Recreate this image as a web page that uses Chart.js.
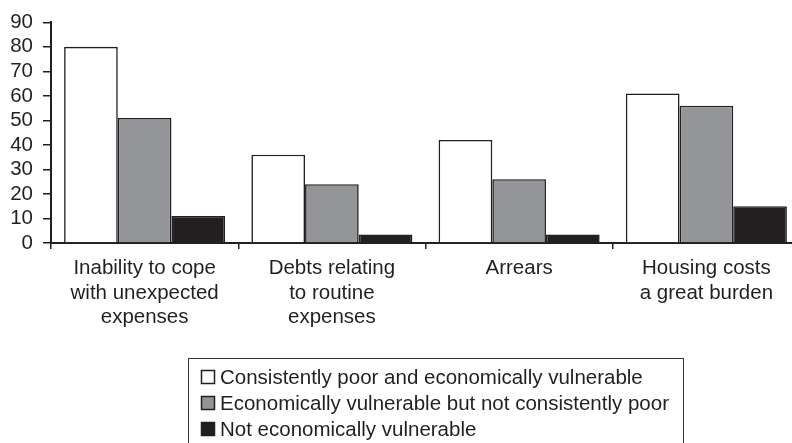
<!DOCTYPE html>
<html>
<head>
<meta charset="utf-8">
<script src="https://cdn.jsdelivr.net/npm/chart.js@4.4.1/dist/chart.umd.min.js"></script>
<style>
  html, body { margin: 0; padding: 0; background: #fff; overflow: hidden; }
  #wrap { width: 800px; height: 443px; }
</style>
</head>
<body>
<div id="wrap"><canvas id="myChart" width="800" height="443"></canvas></div>
<script>
// categories and series
const categories = [
  ['Inability to cope', 'with unexpected', 'expenses'],
  ['Debts relating', 'to routine', 'expenses'],
  ['Arrears'],
  ['Housing costs', 'a great burden']
];
const seriesNames = [
  'Consistently poor and economically vulnerable',
  'Economically vulnerable but not consistently poor',
  'Not economically vulnerable'
];
const poorVulnerable = [80, 36, 42, 61];
const vulnerableOnly = [51, 24, 26, 56];
const notVulnerable = [11, 3.5, 3.5, 15];
const seriesColors = ['#ffffff', '#939598', '#231f20'];
const yTicks = [0, 10, 20, 30, 40, 50, 60, 70, 80, 90];

const ink = '#231f20';
const font = { family: 'Liberation Sans, Arial, Helvetica, sans-serif', size: 20.5 };

// boxed legend under the chart, like the original
const boxLegend = {
  id: 'boxLegend',
  afterDraw(chart) {
    const ctx = chart.ctx;
    const left = 188, top = 358, right = 683;
    ctx.save();
    ctx.strokeStyle = '#333';
    ctx.lineWidth = 1;
    ctx.strokeRect(left + 0.5, top + 0.5, right - left, 120);
    ctx.font = font.size + 'px ' + font.family;
    ctx.textBaseline = 'middle';
    chart.data.datasets.forEach((ds, i) => {
      const y = top + 19 + i * 26;
      ctx.fillStyle = ds.backgroundColor;
      ctx.fillRect(left + 13.5, y - 6.5, 13, 13);
      ctx.strokeStyle = ink;
      ctx.lineWidth = 1.5;
      ctx.strokeRect(left + 13.5, y - 6.5, 13, 13);
      ctx.fillStyle = ink;
      ctx.fillText(ds.label, left + 32, y + 1);
    });
    ctx.restore();
  }
};

const data = {
  labels: categories,
  datasets: [poorVulnerable, vulnerableOnly, notVulnerable].map((vals, i) => ({
    label: seriesNames[i],
    data: vals,
    backgroundColor: seriesColors[i],
    borderColor: ink,
    borderWidth: 1.6,
    borderSkipped: 'bottom',
    barPercentage: 1,
    categoryPercentage: 0.86
  }))
};

const config = {
  type: 'bar',
  data: data,
  options: {
    responsive: false,
    animation: false,
    layout: { padding: { top: 20, left: 0, right: 0, bottom: 100 } },
    plugins: {
      legend: { display: false },
      tooltip: { enabled: false }
    },
    scales: {
      x: {
        grid: { display: true, drawOnChartArea: false, offset: true, tickLength: 6, color: ink, lineWidth: 1.5 },
        border: { display: true, color: ink, width: 2 },
        ticks: { color: ink, font: { ...font, lineHeight: 1.2 }, padding: 7, maxRotation: 0, autoSkip: false },
        afterFit(scale) { scale.height = 100; }
      },
      y: {
        min: 0,
        max: 90,
        afterBuildTicks(scale) { scale.ticks = yTicks.map(v => ({ value: v })); },
        grid: { display: true, drawOnChartArea: false, tickLength: 8, color: ink, lineWidth: 1.5 },
        border: { display: true, color: ink, width: 2 },
        ticks: { color: ink, font: font, padding: 10, autoSkip: false },
        afterFit(scale) { scale.width = 51; }
      }
    }
  },
  plugins: [boxLegend]
};

const ctx = document.getElementById('myChart').getContext('2d');
const myChart = new Chart(ctx, config);
</script>
</body>
</html>
